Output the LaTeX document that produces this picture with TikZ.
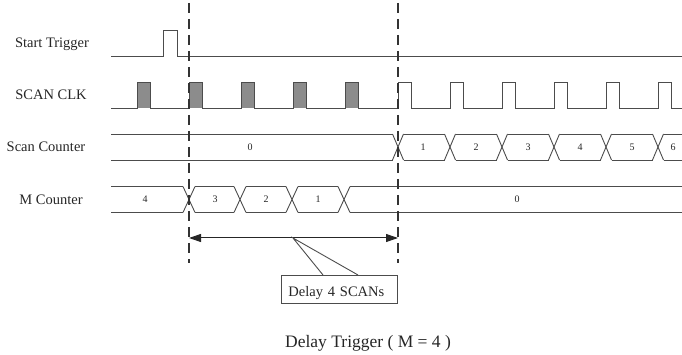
\documentclass[tikz,border=0pt]{standalone}
\usepackage{fontspec}
\setmainfont{Liberation Serif}
\usetikzlibrary{arrows.meta}
\begin{document}
\begin{tikzpicture}[x=1pt,y=-1pt,
  sig/.style={draw=black!70, line width=0.9pt, line join=miter},
  marker/.style={draw=black!80, line width=1.3pt, dash pattern=on 10pt off 6pt},
  lbl/.style={font=\fontsize{14.5}{17}\selectfont, text=black!85, anchor=base, inner sep=0pt},
  val/.style={font=\fontsize{10}{12}\selectfont, text=black!85, inner sep=0pt},
  pulsefill/.style={fill=black!45}]
\useasboundingbox (0,0) rectangle (682,355);

% signal names
\node[lbl] (nTrig) at (52,48) {Start Trigger};
\node[lbl] (nClk)  at (51,100) {SCAN CLK};
\node[lbl] (nScan) at (46,152) {Scan Counter};
\node[lbl] (nM)    at (51,205) {M Counter};

% start trigger
\draw[sig] (111,56) -- (163,56) -- (163,30) -- (177,30) -- (177,56) -- (682,56);

% scan clock: shaded pulses during the delay
\foreach \x in {137,189,241,293,345}
  \fill[pulsefill] (\x,108) rectangle ++(13.5,-26);
\draw[sig] (111,108)
  \foreach \x in {137,189,241,293,345,398,450,502,554,606,658}
    { -- (\x,108) -- (\x,82) -- (\x+13.5,82) -- (\x+13.5,108) } -- (682,108);

% scan counter bus
\foreach \a/\b in {111/392.5,403.5/444.5,455.5/496.5,507.5/548.5,559.5/600.5,611.5/652.5,663.5/682}
  { \draw[sig] (\a,134) -- (\b,134); \draw[sig] (\a,160) -- (\b,160); }
\foreach \c in {398,450,502,554,606,658}
  { \draw[sig] (\c-5.5,134) -- (\c+5.5,160); \draw[sig] (\c-5.5,160) -- (\c+5.5,134); }
\node[val] (s0) at (250,147) {0};
\node[val] (s1) at (423,147) {1};
\node[val] (s2) at (476,147) {2};
\node[val] (s3) at (528,147) {3};
\node[val] (s4) at (580,147) {4};
\node[val] (s5) at (632,147) {5};
\node[val] (s6) at (673,147) {6};

% M counter bus
\foreach \a/\b in {111/183,195/234,246/286,298/338,350/682}
  { \draw[sig] (\a,186.5) -- (\b,186.5); \draw[sig] (\a,212.5) -- (\b,212.5); }
\foreach \c in {189,240,292,344}
  { \draw[sig] (\c-6,186.5) -- (\c+6,212.5); \draw[sig] (\c-6,212.5) -- (\c+6,186.5); }
\node[val] (m4) at (145,199.5) {4};
\node[val] (m3) at (215,199.5) {3};
\node[val] (m2) at (266,199.5) {2};
\node[val] (m1) at (318,199.5) {1};
\node[val] (m0) at (517,199.5) {0};

% delay window markers
\coordinate (mkAtop) at (189,3);
\coordinate (mkAbot) at (189,263);
\coordinate (mkBtop) at (398,3);
\coordinate (mkBbot) at (398,263);
\draw[marker] (mkAtop) -- (mkAbot);
\draw[marker] (mkBtop) -- (mkBbot);

% delay span arrow
\coordinate (spanL) at (189,238);
\coordinate (spanR) at (398,238);
\draw[black!85, line width=1pt,
  {Triangle[length=12pt,width=8pt]}-{Triangle[length=12pt,width=8pt]}] (spanL) -- (spanR);

% callout
\node[draw=black!70, line width=0.9pt, anchor=north west, inner xsep=7pt, inner ysep=0pt,
  minimum height=28pt, text width=102pt, align=left, text height=14pt, text depth=0pt,
  font=\fontsize{14.5}{17}\selectfont, text=black!85] (note) at (281,275) {Delay 4 SCANs};
\coordinate (tip) at (293,238);
\draw[sig] ([xshift=42pt]note.north west) -- (tip) -- ([xshift=77pt]note.north west);

% caption
\node[font=\fontsize{17.5}{20}\selectfont, text=black!85, anchor=base west, inner sep=0pt]
  (title) at (285,347) {Delay Trigger ( M = 4 )};
\end{tikzpicture}
\end{document}
